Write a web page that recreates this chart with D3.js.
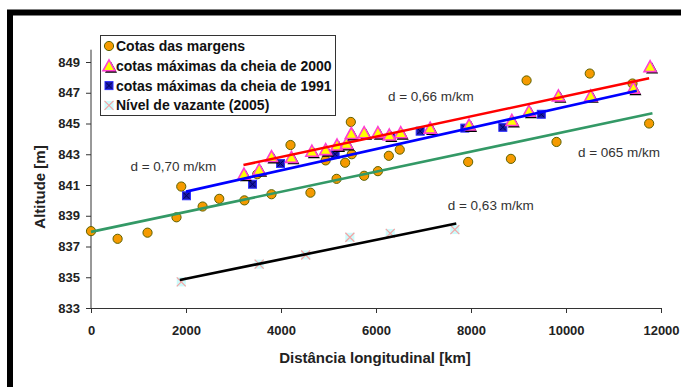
<!DOCTYPE html>
<html>
<head>
<meta charset="utf-8">
<style>
  body { margin: 0; background: #fff; }
  text { font-family: Arial, "Liberation Sans", sans-serif; }
</style>
</head>
<body>
<svg id="chart" width="681" height="387"></svg>
<script src="https://d3js.org/d3.v7.min.js"></script>
<script>

// --- data ---
var margens = [
  [0, 838.0], [560, 837.5], [1190, 837.9], [1800, 838.9], [1900, 840.9],
  [2350, 839.6], [2700, 840.1], [3230, 840.0], [3500, 841.7], [3800, 840.4],
  [4200, 843.6], [4620, 840.5], [4940, 842.6], [5170, 841.4], [5350, 842.45],
  [5470, 845.1], [5490, 843.0], [5750, 841.6], [6040, 841.9], [6270, 842.9],
  [6500, 843.3], [7940, 842.5], [8840, 842.7], [9170, 847.8], [9800, 843.8],
  [10500, 848.25], [11400, 847.6], [11750, 845.0]
];

var cheia2000 = [
  [3220, 841.7], [3540, 842.0], [3800, 842.85], [4220, 842.8], [4650, 843.2],
  [4940, 843.3], [5180, 843.6], [5380, 843.7], [5480, 844.35], [5750, 844.4],
  [6040, 844.4], [6280, 844.25], [6520, 844.4], [7140, 844.7], [7960, 844.9],
  [8860, 845.2], [9220, 845.8], [9840, 846.8], [10520, 846.8], [11420, 847.3],
  [11770, 848.7]
];

var cheia1991 = [
  [2010, 840.3], [3400, 841.05], [3990, 842.4], [5140, 843.0], [6310, 844.1],
  [6930, 844.5], [7870, 844.7], [8670, 844.75], [9480, 845.6]
];

var vazante = [
  [1900, 834.7], [3540, 835.85], [4520, 836.45], [5450, 837.6], [6300, 837.85],
  [7660, 838.1]
];

// trend lines: [x0, y0, x1, y1]
var trendRed   = [3210, 842.3, 11750, 847.94];
var trendBlue  = [2000, 840.57, 11490, 847.13];
var trendGreen = [0, 837.95, 11820, 845.66];
var trendBlack = [1870, 834.82, 7690, 838.5];

var labels = [
  { text: "d = 0,66 m/km", x: 6250, y: 846.75 },
  { text: "d = 0,70 m/km", x: 830, y: 842.2 },
  { text: "d = 065 m/km", x: 10250, y: 843.1 },
  { text: "d = 0,63 m/km", x: 7510, y: 839.7 }
];

var xTicks = [0, 2000, 4000, 6000, 8000, 10000, 12000];
var yTicks = [833, 835, 837, 839, 841, 843, 845, 847, 849];

var legendItems = [
  { name: "Cotas das margens", type: "circle" },
  { name: "cotas máximas da cheia de 2000", type: "triangle" },
  { name: "cotas máximas da cheia de 1991", type: "square" },
  { name: "Nível de vazante (2005)", type: "cross" }
];

// --- layout ---
var svg = d3.select("#chart");

var x = d3.scaleLinear().domain([0, 12000]).range([91, 661]);
var y = d3.scaleLinear().domain([833, 849]).range([308, 62]);

// outer frame
svg.append("rect")
    .attr("x", 10).attr("y", 12.5)
    .attr("width", 720).attr("height", 420)
    .attr("fill", "none")
    .attr("stroke", "#000")
    .attr("stroke-width", 6);

// axes
var xAxis = svg.append("g")
    .attr("transform", "translate(0," + y(833) + ")")
    .call(d3.axisBottom(x).tickValues(xTicks).tickFormat(d3.format("d"))
      .tickSize(5).tickSizeOuter(0).tickPadding(13));

var yAxis = svg.append("g")
    .attr("transform", "translate(" + x(0) + ",0)")
    .call(d3.axisLeft(y).tickValues(yTicks).tickSize(5).tickSizeOuter(0).tickPadding(6));

yAxis.select(".domain").attr("d", "M0," + y(833) + "V" + y(849.8));

[xAxis, yAxis].forEach(function(a) {
  a.selectAll(".domain, line").attr("stroke", "#333");
  a.selectAll("text")
    .attr("font-size", 13)
    .attr("font-weight", "bold")
    .attr("fill", "#222");
});

svg.append("text")
    .attr("x", 375).attr("y", 363)
    .attr("text-anchor", "middle")
    .attr("font-size", 15)
    .attr("font-weight", "bold")
    .attr("fill", "#222")
    .text("Distância longitudinal [km]");

svg.append("text")
    .attr("transform", "translate(45," + 187 + ") rotate(-90)")
    .attr("text-anchor", "middle")
    .attr("font-size", 15)
    .attr("font-weight", "bold")
    .attr("fill", "#222")
    .text("Altitude [m]");

// --- marker drawing ---
function drawMarker(g, type, cx, cy) {
  if (type === "circle") {
    g.append("circle")
        .attr("cx", cx).attr("cy", cy).attr("r", 4.6)
        .attr("fill", "#f59a00")
        .attr("stroke", "#5d6200")
        .attr("stroke-width", 1);
  } else if (type === "triangle") {
    var tri = function(dx, dy) {
      return "M" + (cx + dx) + "," + (cy - 6 + dy) +
             "L" + (cx + 6 + dx) + "," + (cy + 5 + dy) +
             "L" + (cx - 6 + dx) + "," + (cy + 5 + dy) + "Z";
    };
    g.append("path").attr("d", tri(2, 2)).attr("fill", "#000");
    g.append("path").attr("d", tri(0, 0))
        .attr("fill", "#ffff00")
        .attr("stroke", "#ff3fd0")
        .attr("stroke-width", 1.6);
  } else if (type === "square") {
    g.append("rect")
        .attr("x", cx - 4).attr("y", cy - 4)
        .attr("width", 8).attr("height", 8)
        .attr("fill", "#1a1aa8")
        .attr("stroke", "#3030ff")
        .attr("stroke-width", 1);
    g.append("path")
        .attr("d", "M" + (cx - 3) + "," + (cy - 3) + "L" + (cx + 3) + "," + (cy + 3) +
                   "M" + (cx + 3) + "," + (cy - 3) + "L" + (cx - 3) + "," + (cy + 3))
        .attr("stroke", "#000060")
        .attr("stroke-width", 1);
  } else if (type === "cross") {
    g.append("rect")
        .attr("x", cx - 4.5).attr("y", cy - 4.5)
        .attr("width", 9).attr("height", 9)
        .attr("fill", "#ccfbfb");
    g.append("path")
        .attr("d", "M" + (cx - 4.5) + "," + (cy - 4.5) + "L" + (cx + 4.5) + "," + (cy + 4.5) +
                   "M" + (cx + 4.5) + "," + (cy - 4.5) + "L" + (cx - 4.5) + "," + (cy + 4.5))
        .attr("stroke", "#f5a3a3")
        .attr("stroke-width", 1.2);
  }
}

function drawSeries(data, type) {
  var g = svg.append("g");
  data.forEach(function(d) { drawMarker(g, type, x(d[0]), y(d[1])); });
}

function drawTrend(t, color) {
  svg.append("line")
      .attr("x1", x(t[0])).attr("y1", y(t[1]))
      .attr("x2", x(t[2])).attr("y2", y(t[3]))
      .attr("stroke", color)
      .attr("stroke-width", 2.6);
}

drawSeries(margens, "circle");
drawSeries(vazante, "cross");
drawTrend(trendGreen, "#339966");
drawTrend(trendBlack, "#000");
drawSeries(cheia1991, "square");
drawSeries(cheia2000, "triangle");
drawTrend(trendRed, "#ff0000");
drawTrend(trendBlue, "#0000ff");

svg.append("g").selectAll("text")
    .data(labels)
  .enter().append("text")
    .attr("x", function(d) { return x(d.x); })
    .attr("y", function(d) { return y(d.y); })
    .attr("dy", "0.35em")
    .attr("font-size", 13.5)
    .attr("fill", "#333")
    .text(function(d) { return d.text; });

// legend
var legend = svg.append("g");
legend.append("rect")
    .attr("x", 100.5).attr("y", 35.5)
    .attr("width", 235).attr("height", 80)
    .attr("fill", "#fff")
    .attr("stroke", "#333")
    .attr("stroke-width", 1);

legendItems.forEach(function(d, i) {
  var ly = 46 + i * 19.8;
  drawMarker(legend, d.type, 109, ly);
  legend.append("text")
      .attr("x", 116).attr("y", ly)
      .attr("dy", "0.35em")
      .attr("font-size", 14)
      .attr("font-weight", "bold")
      .attr("fill", "#111")
      .text(d.name);
});
</script>
</body>
</html>
